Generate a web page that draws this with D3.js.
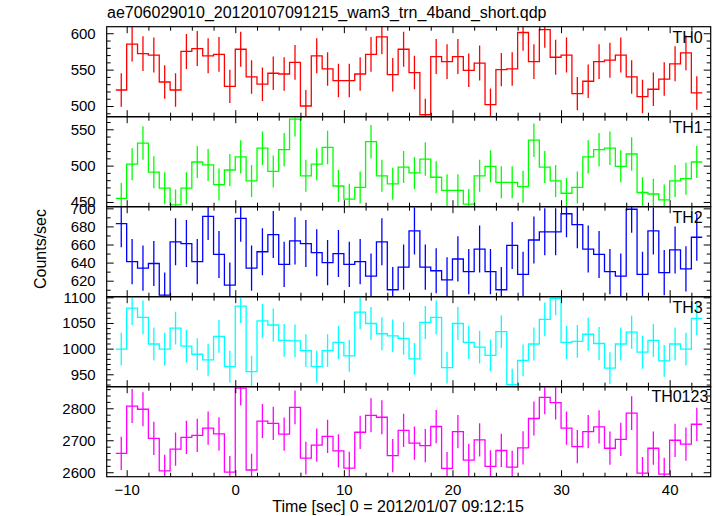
<!DOCTYPE html>
<html><head><meta charset="utf-8">
<script src="https://cdn.jsdelivr.net/npm/d3@7"></script>
<style>
body{margin:0;background:#fff}
svg{display:block}
text{font-family:"Liberation Sans",Arial,Helvetica,sans-serif}
</style>
</head><body><svg id="c" width="717" height="516"></svg>
<script>
const chartTitle = "ae706029010_20120107091215_wam3_trn_4band_short.qdp";
const xTitle = "Time [sec] 0 = 2012/01/07 09:12:15";
const yTitle = "Counts/sec";
const binStart = -11, binWidth = 1;
const xTickValues = [-10, 0, 10, 20, 30, 40];

const th0 = [522,585,572,570,533,522,575,579,569,571,527, 578,540,530,545,544,560,500,569,551,535,535,544,571,595, 543,578,546,488,568,561,568,549,559,502,550,551,601,561,605,567,570,517,534,561,563,570,540,513,523,537,558,573,518];
const th0Err = [23,24,24,24,23,23,24,24,24,24,23, 24,23,23,23,23,24,22,24,23,23,23,23,24,24, 23,24,23,22,24,24,24,23,24,22,23,23,25,24,25,24,24,23,23,24,24,24,23,23,23,23,24,24,23];
const th1 = [455,502,531,491,469,446,469,505,501,474,494, 512,479,524,492,522,564,486,502,525,472,454,470,533,486, 475,498,490,509,484,466,466,447,486,499,477,477,471,535,498,479,462,470,512,522,524,499,516,463,461,453,479,482,505];
const th1Err = [21,22,23,22,22,21,22,22,22,22,22, 23,22,23,22,23,24,22,22,23,22,21,22,23,22, 22,22,22,23,22,22,22,21,22,22,22,22,22,23,22,22,21,22,23,23,23,22,23,21,21,21,22,22,22];
const th2 = [683,641,634,639,604,663,661,641,691,649,615, 689,634,652,671,638,664,661,651,640,650,638,641,625,663, 610,635,675,635,631,621,644,630,655,630,610,659,627,665,674,674,694,682,655,649,630,625,699,627,675,629,654,633,668];
const th2Err = [26,25,25,25,25,26,26,25,26,26,25, 26,25,26,26,25,26,26,26,25,26,25,25,25,26, 25,25,26,25,25,25,25,25,26,25,25,26,25,26,26,26,26,26,26,26,25,25,26,25,26,25,26,25,26];
const th3 = [999,1079,1061,1009,999,1040,1005,989,978,1024,965, 1083,955,1054,1046,1016,1015,996,965,996,1012,986,1071,1049,1029, 1025,1020,980,1051,1061,963,1049,1012,1003,987,1033,930,977,1009,1057,1098,1012,1014,1028,1010,962,1009,1032,993,1016,976,1009,999,1059];
const th3Err = [32,33,33,32,32,32,32,31,31,32,31, 33,31,33,32,32,32,32,31,32,32,31,33,32,32, 32,32,31,32,33,31,32,32,32,31,32,31,31,32,33,33,32,32,32,32,31,32,32,32,32,31,32,32,33];
const th0123 = [2659,2807,2797,2706,2604,2672,2709,2715,2738,2720,2600, 2863,2607,2760,2753,2719,2803,2644,2685,2712,2667,2613,2725,2778,2772, 2652,2731,2691,2683,2743,2612,2727,2638,2701,2618,2668,2616,2676,2768,2834,2818,2738,2680,2727,2742,2675,2703,2785,2597,2675,2594,2700,2688,2750];
const th0123Err = [52,53,53,52,51,52,52,52,52,52,51, 54,51,53,52,52,53,51,52,52,52,51,52,53,53, 52,52,52,52,52,51,52,51,52,51,52,51,52,53,53,53,52,52,52,52,52,52,53,51,52,51,52,52,52];

const panelNames = ["TH0","TH1","TH2","TH3","TH0123"];
const panelValues = [th0, th1, th2, th3, th0123];
const panelErrors = [th0Err, th1Err, th2Err, th3Err, th0123Err];
const yDomains = [[485.3,609],[443.5,567.3],[602.3,701.8],[925.8,1101.2],[2586,2867.5]];
const yMajorTicks = [[500,550,600],[450,500,550],[620,640,660,680,700],[950,1000,1050,1100],[2600,2700,2800]];
const yMinorStep = [10,10,10,10,20];
const panelColors = ["#ff0000","#00ff00","#0000ff","#00ffff","#ff00ff"];

const svg = d3.select("#c");
const L = 106.7, R = 710.7, T = 26.7, PH = 90;
const x = d3.scaleLinear().domain([-11.84, 43.78]).range([L, R]);
const FS = 15;

function styleAxis(g){
  g.select(".domain").remove();
  g.selectAll("line").attr("stroke","#000").attr("stroke-width",1);
  g.attr("font-size",FS).attr("font-family",null);
  g.selectAll("text").attr("fill","#000");
}

const xMinor = d3.range(-10, 44, 2);

panelNames.forEach((name,k)=>{
  const top = T + k*PH;
  const y = d3.scaleLinear().domain(yDomains[k]).range([top+PH, top]);
  const vals = panelValues[k], errs = panelErrors[k], col = panelColors[k];
  const cid = "clip"+k;
  svg.append("clipPath").attr("id",cid).append("rect")
    .attr("x",L).attr("y",top).attr("width",R-L).attr("height",PH);
  const g = svg.append("g").attr("clip-path",`url(#${cid})`);
  g.selectAll("line").data(vals).join("line")
    .attr("x1",(d,i)=>x(binStart+(i+0.5)*binWidth))
    .attr("x2",(d,i)=>x(binStart+(i+0.5)*binWidth))
    .attr("y1",(d,i)=>y(d-errs[i]))
    .attr("y2",(d,i)=>y(d+errs[i]))
    .attr("stroke",col).attr("stroke-width",1.3);
  const pts = [];
  vals.forEach((v,i)=>{pts.push([binStart+i*binWidth,v]);pts.push([binStart+(i+1)*binWidth,v]);});
  g.append("path")
    .attr("d", d3.line().x(d=>x(d[0])).y(d=>y(d[1]))(pts))
    .attr("fill","none").attr("stroke",col).attr("stroke-width",1.3);

  const lo = yDomains[k][0], hi = yDomains[k][1], st = yMinorStep[k];
  const minorY = d3.range(Math.ceil(lo/st)*st, hi, st).filter(v=>!yMajorTicks[k].includes(v));

  svg.append("g").attr("transform",`translate(${L},0)`)
    .call(d3.axisLeft(y).tickValues(yMajorTicks[k]).tickSize(-7).tickPadding(11).tickFormat(d3.format("d")))
    .call(styleAxis);
  svg.append("g").attr("transform",`translate(${L},0)`)
    .call(d3.axisLeft(y).tickValues(minorY).tickSize(-4).tickFormat(""))
    .call(styleAxis);
  svg.append("g").attr("transform",`translate(${R},0)`)
    .call(d3.axisRight(y).tickValues(yMajorTicks[k]).tickSize(-7).tickFormat(""))
    .call(styleAxis);
  svg.append("g").attr("transform",`translate(${R},0)`)
    .call(d3.axisRight(y).tickValues(minorY).tickSize(-4).tickFormat(""))
    .call(styleAxis);
  svg.append("g").attr("transform",`translate(0,${top})`)
    .call(d3.axisTop(x).tickValues(xTickValues).tickSize(-6.5).tickFormat(""))
    .call(styleAxis);
  svg.append("g").attr("transform",`translate(0,${top})`)
    .call(d3.axisTop(x).tickValues(xMinor.filter(v=>v%10!==0)).tickSize(-4).tickFormat(""))
    .call(styleAxis);
  const last = k===panelNames.length-1;
  svg.append("g").attr("transform",`translate(0,${top+PH})`)
    .call(d3.axisBottom(x).tickValues(xTickValues).tickSize(-6.5).tickPadding(8).tickFormat(last? d3.format("d") : ""))
    .call(styleAxis);
  svg.append("g").attr("transform",`translate(0,${top+PH})`)
    .call(d3.axisBottom(x).tickValues(xMinor.filter(v=>v%10!==0)).tickSize(-4).tickFormat(""))
    .call(styleAxis);

  svg.append("rect").attr("x",L).attr("y",top).attr("width",R-L).attr("height",PH)
    .attr("fill","none").attr("stroke","#000").attr("stroke-width",1.2);

  svg.append("text").attr("x", last ? 708.3 : 702.7).attr("y", top + (last ? 15 : 16.6))
    .attr("text-anchor","end").attr("font-size",16).attr("fill","#000").text(name);
});

svg.append("text").attr("x",107).attr("y",17.5).attr("font-size",16).attr("fill","#000").text(chartTitle);
svg.append("text").attr("x",398).attr("y",511.5).attr("text-anchor","middle").attr("font-size",16).attr("fill","#000").text(xTitle);
svg.append("text").attr("transform","translate(46,249) rotate(-90)").attr("text-anchor","middle")
  .attr("font-size",16).attr("fill","#000").text(yTitle);
</script>
</body></html>
